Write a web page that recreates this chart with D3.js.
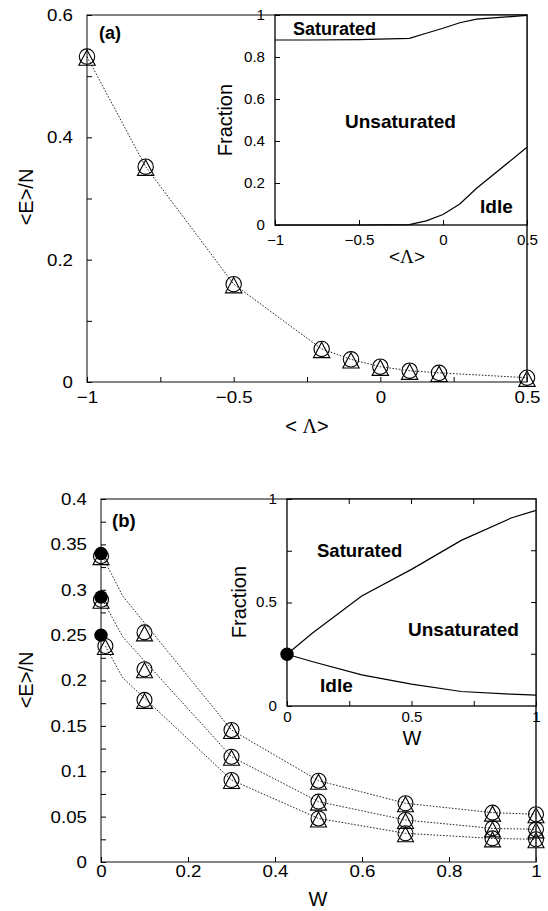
<!DOCTYPE html>
<html>
<head>
<meta charset="utf-8">
<script src="https://cdn.jsdelivr.net/npm/d3@7"></script>
<style>
  html, body { margin: 0; padding: 0; background: #fff; }
  svg { display: block; font-family: "Liberation Sans", Arial, Helvetica, sans-serif; }
</style>
</head>
<body>
<svg id="chart" width="548" height="911"></svg>
<script>
// ---------------- DATA ----------------
// Panel (a): main plot
const aLambda = [-1, -0.8, -0.5, -0.2, -0.1, 0, 0.1, 0.2, 0.5];
const aEnergy = [0.532, 0.352, 0.16, 0.054, 0.037, 0.025, 0.0185, 0.015, 0.007];
// Panel (a): inset fractions
const aInsetSaturatedEdge = [0.881, 0.881, 0.883, 0.889, 0.913, 0.937, 0.963, 0.98, 0.998];
const aInsetIdleEdge = [0, 0, 0, 0.002, 0.02, 0.05, 0.1, 0.175, 0.37];

// Panel (b): main plot markers
const bW = [0, 0.1, 0.3, 0.5, 0.7, 0.9, 1];
const bWLow = [0.01, 0.1, 0.3, 0.5, 0.7, 0.9, 1];
const bTop = [0.337, 0.253, 0.1455, 0.0896, 0.0647, 0.0544, 0.0526];
const bMid = [0.289, 0.2124, 0.116, 0.0665, 0.0463, 0.037, 0.036];
const bLow = [0.238, 0.1786, 0.0904, 0.048, 0.0316, 0.026, 0.025];
const bFilledW = [0, 0, 0];
const bFilled = [0.34, 0.292, 0.25];
// Panel (b): dotted curves
const bLineW = [0, 0.05, 0.3, 0.5, 0.7, 0.9, 1];
const bLineLowW = [0.01, 0.05, 0.3, 0.5, 0.7, 0.9, 1];
const bLineTop = [0.34, 0.293, 0.1455, 0.0896, 0.0647, 0.0544, 0.0526];
const bLineMid = [0.292, 0.248, 0.116, 0.0665, 0.0463, 0.037, 0.036];
const bLineLow = [0.238, 0.203, 0.0904, 0.048, 0.0316, 0.026, 0.025];
// Panel (b): inset
const bInsetW = [0, 0.1, 0.3, 0.5, 0.7, 0.9, 1];
const bInsetSaturatedEdge = [0.25, 0.35, 0.531, 0.66, 0.80, 0.908, 0.945];
const bInsetIdleEdge = [0.25, 0.215, 0.15, 0.106, 0.07, 0.057, 0.053];
const bInsetPoint = [[0, 0.25]];

// Tick values
const aMainXTicks = [-1, -0.75, -0.5, -0.25, 0, 0.25, 0.5];
const aMainXLabels = [-1, -0.5, 0, 0.5];
const aMainYTicks = [0, 0.1, 0.2, 0.3, 0.4, 0.5, 0.6];
const aMainYLabels = [0, 0.2, 0.4, 0.6];
const aInsetXTicks = [-1, -0.5, 0, 0.5];
const aInsetYTicks = [0, 0.2, 0.4, 0.6, 0.8, 1];
const bMainXTicks = [0, 0.2, 0.4, 0.6, 0.8, 1];
const bMainYTicks = [0, 0.025, 0.05, 0.075, 0.1, 0.125, 0.15, 0.175, 0.2, 0.225, 0.25, 0.275, 0.3, 0.325, 0.35, 0.375, 0.4];
const bMainYLabels = [0, 0.05, 0.1, 0.15, 0.2, 0.25, 0.3, 0.35, 0.4];
const bInsetTicks = [0, 0.25, 0.5, 0.75, 1];
const bInsetLabels = [0, 0.5, 1];

// ---------------- DRAWING ----------------
const svg = d3.select("#chart");
const fmt = v => {
  const s = String(+v.toFixed(3));
  return s.replace("-", "\u2212");
};
const near = (arr, v) => arr.some(a => Math.abs(a - v) < 1e-9);

function frame(g, x, y, color, width) {
  const [x0, x1] = x.range(), [y0, y1] = y.range();
  g.append("rect")
    .attr("x", Math.min(x0, x1)).attr("y", Math.min(y0, y1))
    .attr("width", Math.abs(x1 - x0)).attr("height", Math.abs(y1 - y0))
    .attr("fill", "none").attr("stroke", color).attr("stroke-width", width);
}

function axisBottom(g, x, y, ticks, labels, pad, fs, tickLen, cls) {
  const ax = d3.axisBottom(x).tickValues(ticks).tickSizeInner(-tickLen).tickSizeOuter(0)
    .tickPadding(pad).tickFormat(d => near(labels, d) ? fmt(d) : "");
  const a = g.append("g").attr("transform", `translate(0,${y.range()[0]})`).call(ax);
  a.select(".domain").remove();
  a.selectAll("line").attr("stroke", "#000");
  a.selectAll("text").attr("font-size", fs).attr("fill", "#000")
    .attr("font-family", "Liberation Sans, Arial, sans-serif").attr("class", cls);
  return a;
}
function axisLeft(g, x, y, ticks, labels, pad, fs, tickLen, cls) {
  const ax = d3.axisLeft(y).tickValues(ticks).tickSizeInner(-tickLen).tickSizeOuter(0)
    .tickPadding(pad).tickFormat(d => near(labels, d) ? fmt(d) : "");
  const a = g.append("g").attr("transform", `translate(${x.range()[0]},0)`).call(ax);
  a.select(".domain").remove();
  a.selectAll("line").attr("stroke", "#000");
  a.selectAll("text").attr("font-size", fs).attr("fill", "#000")
    .attr("font-family", "Liberation Sans, Arial, sans-serif").attr("class", cls);
  return a;
}
function mirrorTicks(g, x, y, xt, yt, len) {
  const [y0, y1] = y.range(), [x0, x1] = x.range();
  g.selectAll(null).data(xt).enter().append("line")
    .attr("x1", d => x(d)).attr("x2", d => x(d)).attr("y1", y1).attr("y2", y1 + len)
    .attr("stroke", "#000");
  g.selectAll(null).data(yt).enter().append("line")
    .attr("x1", x1).attr("x2", x1 - len).attr("y1", d => y(d)).attr("y2", d => y(d))
    .attr("stroke", "#000");
}

function markers(g, x, y, xs, ys, r) {
  const pts = xs.map((v, i) => [x(v), y(ys[i])]);
  g.selectAll(null).data(pts).enter().append("circle")
    .attr("cx", d => d[0]).attr("cy", d => d[1]).attr("r", r)
    .attr("fill", "none").attr("stroke", "#000").attr("stroke-width", 1.1);
  g.selectAll(null).data(pts).enter().append("path")
    .attr("d", d => `M${d[0]},${d[1] - r + 1}L${d[0] + r + 0.5},${d[1] + r + 1}L${d[0] - r - 0.5},${d[1] + r + 1}Z`)
    .attr("fill", "none").attr("stroke", "#000").attr("stroke-width", 1.1);
}
function dotted(g, x, y, xs, ys) {
  const line = d3.line().x(d => x(d[0])).y(d => y(d[1]));
  g.append("path").attr("d", line(xs.map((v, i) => [v, ys[i]])))
    .attr("fill", "none").attr("stroke", "#111").attr("stroke-width", 0.9)
    .attr("stroke-dasharray", "1.6,1.6");
}
function solid(g, x, y, xs, ys) {
  const line = d3.line().x(d => x(d[0])).y(d => y(d[1]));
  g.append("path").attr("d", line(xs.map((v, i) => [v, ys[i]])))
    .attr("fill", "none").attr("stroke", "#000").attr("stroke-width", 1.2);
}
function label(g, txt, x, y, opts = {}) {
  const t = g.append("text").attr("x", x).attr("y", y)
    .attr("font-size", opts.size || 20).attr("fill", "#000")
    .attr("text-anchor", opts.anchor || "start");
  if (opts.bold) t.attr("font-weight", "bold");
  if (opts.rotate) t.attr("transform", `rotate(-90,${x},${y})`);
  t.text(txt);
  return t;
}
function lambdaLabel(g, x, y, size, spaced) {
  const t = g.append("text").attr("x", x).attr("y", y).attr("font-size", size)
    .attr("text-anchor", "middle").attr("fill", "#000");
  t.append("tspan").text(spaced ? "< " : "<");
  t.append("tspan").attr("font-family", "Liberation Serif, Times New Roman, serif").text("\u039B");
  t.append("tspan").text(">");
}

// ===== Panel (a) =====
const xA = d3.scaleLinear().domain([-1, 0.5]).range([87, 527]);
const yA = d3.scaleLinear().domain([0, 0.6]).range([382, 15]);
const gA = svg.append("g");
frame(gA, xA, yA, "#333", 1.2);
axisBottom(gA, xA, yA, aMainXTicks, aMainXLabels, 9, 17, 5, "tk-main");
axisLeft(gA, xA, yA, aMainYTicks, aMainYLabels, 14, 17, 5, "tk-main");
dotted(gA, xA, yA, aLambda, aEnergy);
markers(gA, xA, yA, aLambda, aEnergy, 7.7);
label(gA, "(a)", 99, 39, { bold: true, size: 18 });
lambdaLabel(gA, 307, 433, 20, true);
label(gA, "<E>/N", 33, 197, { rotate: true, anchor: "middle", size: 20 });

// inset (a)
const xAi = d3.scaleLinear().domain([-1, 0.5]).range([275, 527]);
const yAi = d3.scaleLinear().domain([0, 1]).range([225, 15]);
const gAi = svg.append("g");
gAi.append("rect").attr("x", 275).attr("y", 15).attr("width", 252).attr("height", 210).attr("fill", "#fff");
solid(gAi, xAi, yAi, aLambda, aInsetSaturatedEdge);
solid(gAi, xAi, yAi, aLambda, aInsetIdleEdge);
frame(gAi, xAi, yAi, "#000", 1.3);
axisBottom(gAi, xAi, yAi, aInsetXTicks, aInsetXTicks, 10, 14, 5, "tk-inset");
axisLeft(gAi, xAi, yAi, aInsetYTicks, aInsetYTicks, 10, 14, 5, "tk-inset");
label(gAi, "Saturated", 293, 35, { bold: true, size: 18 });
label(gAi, "Unsaturated", 345, 128, { bold: true, size: 19 });
label(gAi, "Idle", 480, 213, { bold: true, size: 19 });
lambdaLabel(gAi, 407, 263, 19, false);
label(gAi, "Fraction", 232, 120, { rotate: true, anchor: "middle", size: 20 });
// main right border below inset stays visible through labels
gA.append("line").attr("x1", 527).attr("x2", 527).attr("y1", 225).attr("y2", 382).attr("stroke", "#333").attr("stroke-width", 1.2);

// ===== Panel (b) =====
const xB = d3.scaleLinear().domain([0, 1]).range([101, 536]);
const yB = d3.scaleLinear().domain([0, 0.4]).range([862, 499]);
const gB = svg.append("g");
frame(gB, xB, yB, "#333", 1.2);
axisBottom(gB, xB, yB, bMainXTicks, bMainXTicks, 3, 17, 5, "tk-main");
axisLeft(gB, xB, yB, bMainYTicks, bMainYLabels, 14, 17, 5, "tk-main");
dotted(gB, xB, yB, bLineW, bLineTop);
dotted(gB, xB, yB, bLineW, bLineMid);
dotted(gB, xB, yB, bLineLowW, bLineLow);
markers(gB, xB, yB, bW, bTop, 7.5);
markers(gB, xB, yB, bW, bMid, 7.5);
markers(gB, xB, yB, bWLow, bLow, 7.5);
gB.selectAll(null).data(bFilled).enter().append("circle")
  .attr("cx", (d, i) => xB(bFilledW[i])).attr("cy", d => yB(d)).attr("r", 6.7).attr("fill", "#000");
label(gB, "(b)", 112, 527, { bold: true, size: 18.5 });
label(gB, "W", 318, 906, { anchor: "middle", size: 20 });
label(gB, "<E>/N", 33, 680, { rotate: true, anchor: "middle", size: 20 });

// inset (b)
const xBi = d3.scaleLinear().domain([0, 1]).range([287, 536]);
const yBi = d3.scaleLinear().domain([0, 1]).range([706, 499]);
const gBi = svg.append("g");
gBi.append("rect").attr("x", 287).attr("y", 499).attr("width", 249).attr("height", 207).attr("fill", "#fff");
solid(gBi, xBi, yBi, bInsetW, bInsetSaturatedEdge);
solid(gBi, xBi, yBi, bInsetW, bInsetIdleEdge);
frame(gBi, xBi, yBi, "#000", 1.3);
axisBottom(gBi, xBi, yBi, bInsetTicks, bInsetLabels, 6, 14, 5, "tk-inset");
axisLeft(gBi, xBi, yBi, bInsetTicks, bInsetLabels, 10, 14, 5, "tk-inset");
mirrorTicks(gBi, xBi, yBi, bInsetTicks.slice(1, -1), bInsetTicks.slice(1, -1), 5);
gBi.selectAll(null).data(bInsetPoint).enter().append("circle")
  .attr("cx", d => xBi(d[0])).attr("cy", d => yBi(d[1])).attr("r", 6.7).attr("fill", "#000");
label(gBi, "Saturated", 317, 557, { bold: true, size: 18.5 });
label(gBi, "Unsaturated", 408, 636, { bold: true, size: 19 });
label(gBi, "Idle", 320, 692, { bold: true, size: 19 });
label(gBi, "W", 412, 745, { anchor: "middle", size: 20 });
label(gBi, "Fraction", 246, 602, { rotate: true, anchor: "middle", size: 20 });
gB.append("line").attr("x1", 536).attr("x2", 536).attr("y1", 706).attr("y2", 862).attr("stroke", "#333").attr("stroke-width", 1.2);

// horizontal stretch for tick labels (original figure glyphs are wider than tall)
function stretch(cls, k) {
  svg.selectAll("text." + cls).each(function () {
    if (!this.textContent) return;
    const w = this.getComputedTextLength();
    d3.select(this).attr("textLength", w * k).attr("lengthAdjust", "spacingAndGlyphs");
  });
}
stretch("tk-main", 1.1);
stretch("tk-inset", 1.08);
</script>
</body>
</html>
